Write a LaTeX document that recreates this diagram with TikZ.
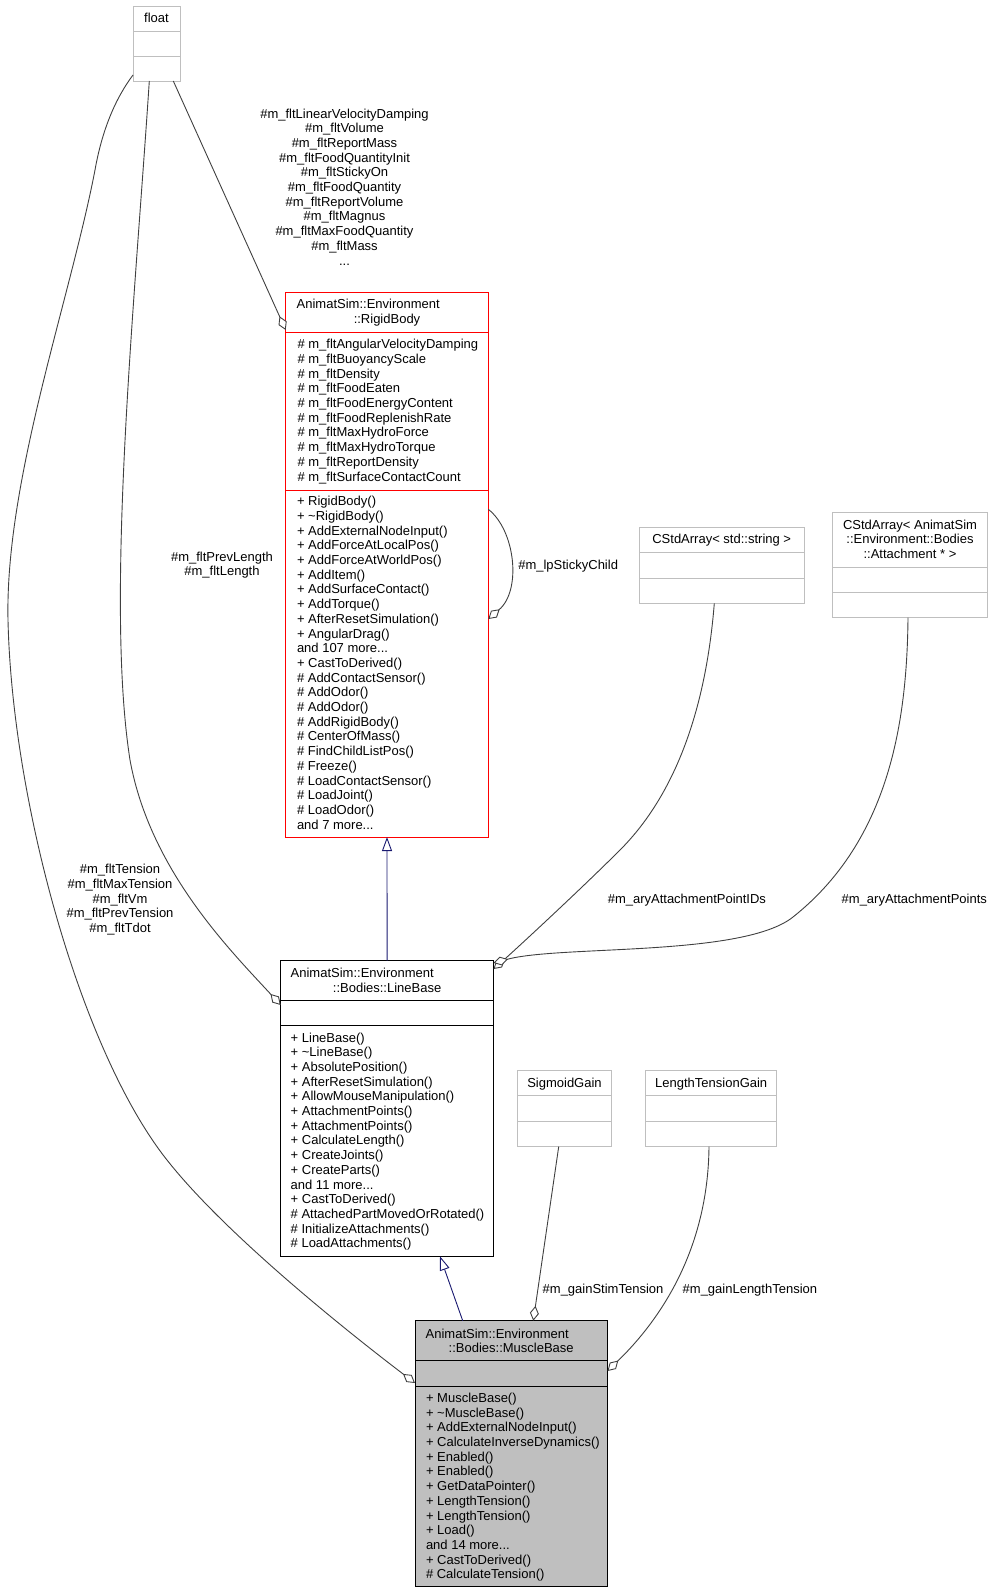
\documentclass[tikz,border=0pt]{standalone}
\usepackage{fontspec}
\setmainfont{Liberation Sans}
\usetikzlibrary{arrows.meta}
\definecolor{edgegray}{HTML}{404040}
\definecolor{boxgray}{HTML}{BFBFBF}
\definecolor{navyblue}{HTML}{191970}
\definecolor{fillgray}{HTML}{BFBFBF}
\newcommand{\fs}{\rule{0pt}{11pt}}
\begin{document}
\begin{tikzpicture}[x=1pt,y=-1pt,
  box/.style={draw, inner sep=0pt, outer sep=0pt, anchor=north west, line width=1pt},
  graybox/.style={box, draw=boxgray},
  redbox/.style={box, draw=red},
  blackbox/.style={box, draw=black},
  txt/.style={inner sep=0pt, outer sep=0pt, font=\fontsize{13}{14.7}\selectfont},
  list/.style={txt, anchor=north west, align=left},
  clist/.style={txt, anchor=north, align=center},
  agg/.style={draw=edgegray, line width=0.9pt, -{Diamond[length=15pt,width=9pt,fill=white]}},
  inh/.style={draw=navyblue, line width=0.9pt, -{Triangle[length=14pt,width=10pt,fill=white]}},
]
\useasboundingbox (0,0) rectangle (993,1593);

% ---------- float ----------
\node[graybox, minimum width=47pt, minimum height=75pt] (flt) at (133,6) {};
\draw[boxgray, line width=1pt] ([yshift=-25pt]flt.north west) -- ([yshift=-25pt]flt.north east);
\draw[boxgray, line width=1pt] ([yshift=-50pt]flt.north west) -- ([yshift=-50pt]flt.north east);
\node[txt, anchor=base] (fltT) at (156.5,22) {float};

% ---------- RigidBody ----------
\node[redbox, minimum width=202.6pt, minimum height=544.3pt] (rb) at (285.7,292.7) {};
\draw[red, line width=1pt] ([yshift=-39.6pt]rb.north west) -- ([yshift=-39.6pt]rb.north east);
\draw[red, line width=1pt] ([yshift=-197.3pt]rb.north west) -- ([yshift=-197.3pt]rb.north east);
\node[txt, anchor=base west] (rbT1) at (296.7,308.7) {AnimatSim::Environment};
\node[txt, anchor=base] (rbT2) at (387,323.4) {::RigidBody};
\node[list] (rbA) at (297.5,337.7) {\fs\# m\_fltAngularVelocityDamping\\
\# m\_fltBuoyancyScale\\
\# m\_fltDensity\\
\# m\_fltFoodEaten\\
\# m\_fltFoodEnergyContent\\
\# m\_fltFoodReplenishRate\\
\# m\_fltMaxHydroForce\\
\# m\_fltMaxHydroTorque\\
\# m\_fltReportDensity\\
\# m\_fltSurfaceContactCount};
\node[list] (rbM) at (297,494.7) {\fs+ RigidBody()\\
+ \textasciitilde RigidBody()\\
+ AddExternalNodeInput()\\
+ AddForceAtLocalPos()\\
+ AddForceAtWorldPos()\\
+ AddItem()\\
+ AddSurfaceContact()\\
+ AddTorque()\\
+ AfterResetSimulation()\\
+ AngularDrag()\\
and 107 more...\\
+ CastToDerived()\\
\# AddContactSensor()\\
\# AddOdor()\\
\# AddOdor()\\
\# AddRigidBody()\\
\# CenterOfMass()\\
\# FindChildListPos()\\
\# Freeze()\\
\# LoadContactSensor()\\
\# LoadJoint()\\
\# LoadOdor()\\
and 7 more...};

% ---------- CStdArray< std::string > ----------
\node[graybox, minimum width=165.3pt, minimum height=76pt] (csa) at (639,527.3) {};
\draw[boxgray, line width=1pt] ([yshift=-25pt]csa.north west) -- ([yshift=-25pt]csa.north east);
\draw[boxgray, line width=1pt] ([yshift=-50.7pt]csa.north west) -- ([yshift=-50.7pt]csa.north east);
\node[txt, anchor=base] (csaT) at (721.7,543.7) {CStdArray< std::string >};

% ---------- CStdArray< Attachment * > ----------
\node[graybox, minimum width=155.4pt, minimum height=105pt] (caa) at (832.3,512.7) {};
\draw[boxgray, line width=1pt] ([yshift=-54.6pt]caa.north west) -- ([yshift=-54.6pt]caa.north east);
\draw[boxgray, line width=1pt] ([yshift=-80pt]caa.north west) -- ([yshift=-80pt]caa.north east);
\node[clist] (caaT) at (910,518) {\fs CStdArray< AnimatSim\\::Environment::Bodies\\::Attachment * >};

% ---------- LineBase ----------
\node[blackbox, minimum width=212.8pt, minimum height=295.6pt] (lb) at (280.7,960.7) {};
\draw[black, line width=1pt] ([yshift=-40pt]lb.north west) -- ([yshift=-40pt]lb.north east);
\draw[black, line width=1pt] ([yshift=-65pt]lb.north west) -- ([yshift=-65pt]lb.north east);
\node[txt, anchor=base west] (lbT1) at (290.7,977.4) {AnimatSim::Environment};
\node[txt, anchor=base] (lbT2) at (387.1,992.1) {::Bodies::LineBase};
\node[list] (lbM) at (290.7,1031) {\fs+ LineBase()\\
+ \textasciitilde LineBase()\\
+ AbsolutePosition()\\
+ AfterResetSimulation()\\
+ AllowMouseManipulation()\\
+ AttachmentPoints()\\
+ AttachmentPoints()\\
+ CalculateLength()\\
+ CreateJoints()\\
+ CreateParts()\\
and 11 more...\\
+ CastToDerived()\\
\# AttachedPartMovedOrRotated()\\
\# InitializeAttachments()\\
\# LoadAttachments()};

% ---------- SigmoidGain / LengthTensionGain ----------
\node[graybox, minimum width=93.6pt, minimum height=76pt] (sg) at (517.7,1070.7) {};
\draw[boxgray, line width=1pt] ([yshift=-25pt]sg.north west) -- ([yshift=-25pt]sg.north east);
\draw[boxgray, line width=1pt] ([yshift=-50.3pt]sg.north west) -- ([yshift=-50.3pt]sg.north east);
\node[txt, anchor=base] (sgT) at (564.5,1087.4) {SigmoidGain};

\node[graybox, minimum width=131pt, minimum height=76pt] (ltg) at (645.7,1070.7) {};
\draw[boxgray, line width=1pt] ([yshift=-25pt]ltg.north west) -- ([yshift=-25pt]ltg.north east);
\draw[boxgray, line width=1pt] ([yshift=-50.3pt]ltg.north west) -- ([yshift=-50.3pt]ltg.north east);
\node[txt, anchor=base] (ltgT) at (711.2,1087.4) {LengthTensionGain};

% ---------- MuscleBase ----------
\node[blackbox, fill=fillgray, minimum width=192.5pt, minimum height=265.3pt] (mb) at (415,1320.7) {};
\draw[black, line width=1pt] ([yshift=-40pt]mb.north west) -- ([yshift=-40pt]mb.north east);
\draw[black, line width=1pt] ([yshift=-65.3pt]mb.north west) -- ([yshift=-65.3pt]mb.north east);
\node[txt, anchor=base west] (mbT1) at (425.7,1338) {AnimatSim::Environment};
\node[txt, anchor=base] (mbT2) at (511.2,1352.7) {::Bodies::MuscleBase};
\node[list] (mbM) at (426,1391.4) {\fs+ MuscleBase()\\
+ \textasciitilde MuscleBase()\\
+ AddExternalNodeInput()\\
+ CalculateInverseDynamics()\\
+ Enabled()\\
+ Enabled()\\
+ GetDataPointer()\\
+ LengthTension()\\
+ LengthTension()\\
+ Load()\\
and 14 more...\\
+ CastToDerived()\\
\# CalculateTension()};

% ---------- inheritance ----------
\draw[inh] (lb.north) -- (rb.south);
\draw[inh] ([xshift=47.7pt]mb.north west) -- ([xshift=159.3pt]lb.south west);

% ---------- aggregation edges ----------
\draw[agg] ([xshift=40.3pt]flt.south west) -- ([yshift=-37.3pt]rb.north west);
\draw[agg] ([xshift=16.3pt]flt.south west)
  .. controls (135,300) and (105,600) .. (130,760)
  .. controls (150,870) and (230,950) .. ([yshift=-44.3pt]lb.north west);
\draw[agg] ([yshift=6pt]flt.south west)
  .. controls (118,95) and (103,125) .. (95,170)
  .. controls (70,300) and (5,480) .. (8,620)
  .. controls (12,800) and (80,1050) .. (167,1160)
  .. controls (230,1240) and (365,1345) .. ([yshift=-62.3pt]mb.north west);
\draw[agg] ([yshift=-216.6pt]rb.north east)
  .. controls (515,530) and (522,590) .. ([yshift=-326.3pt]rb.north east);
\draw[agg] ([xshift=75.3pt]csa.south west)
  .. controls (705,720) and (670,800) .. (620,850)
  .. controls (580,890) and (515,950) .. ([yshift=-8.3pt]lb.north east);
\draw[agg] ([xshift=75.7pt]caa.south west)
  .. controls (907,720) and (890,840) .. (793,917)
  .. controls (743,957) and (560,945) .. ([yshift=-2.3pt]lb.north east);
\draw[agg] ([xshift=41pt]sg.south west) -- ([xshift=118.3pt]mb.north west);
\draw[agg] ([xshift=63.3pt]ltg.south west)
  .. controls (708,1250) and (660,1320) .. ([yshift=-50.3pt]mb.north east);

% ---------- edge labels ----------
\node[clist] (l1) at (344.5,107) {\fs\#m\_fltLinearVelocityDamping\\
\#m\_fltVolume\\
\#m\_fltReportMass\\
\#m\_fltFoodQuantityInit\\
\#m\_fltStickyOn\\
\#m\_fltFoodQuantity\\
\#m\_fltReportVolume\\
\#m\_fltMagnus\\
\#m\_fltMaxFoodQuantity\\
\#m\_fltMass\\
...};
\node[clist] (l2) at (222,550.2) {\fs\#m\_fltPrevLength\\\#m\_fltLength};
\node[clist] (l3) at (120,862.7) {\fs\#m\_fltTension\\
\#m\_fltMaxTension\\
\#m\_fltVm\\
\#m\_fltPrevTension\\
\#m\_fltTdot};
\node[txt, anchor=base west] (l4) at (518.3,569) {\#m\_lpStickyChild};
\node[txt, anchor=base east] (l5) at (766,903) {\#m\_aryAttachmentPointIDs};
\node[txt, anchor=base west] (l6) at (841.7,903) {\#m\_aryAttachmentPoints};
\node[txt, anchor=base west] (l7) at (542.7,1293) {\#m\_gainStimTension};
\node[txt, anchor=base west] (l8) at (682.7,1293) {\#m\_gainLengthTension};
\end{tikzpicture}
\end{document}
